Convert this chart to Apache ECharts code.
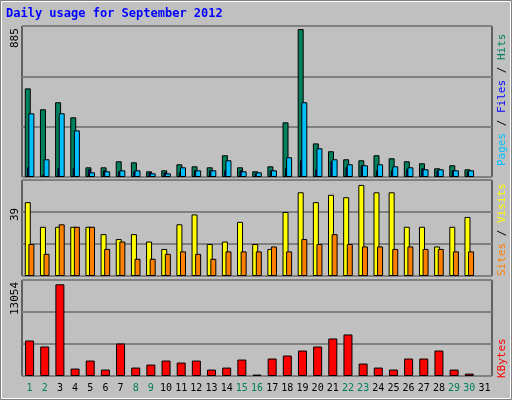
<!DOCTYPE html>
<html>
<head>
<meta charset="utf-8">
<script src="https://cdn.jsdelivr.net/npm/echarts@6/dist/echarts.min.js"></script>
<style>
  html, body { margin: 0; padding: 0; background: #c0c0c0; }
  #chart { width: 512px; height: 400px; }
</style>
</head>
<body>
<div id="chart"></div>
<script>
const days = ['1','2','3','4','5','6','7','8','9','10','11','12','13','14','15','16','17','18','19','20','21','22','23','24','25','26','27','28','29','30','31'];
const weekend = ['1','2','8','9','15','16','22','23','29','30'];
const hits = [530,405,447,357,58,58,94,88,34,40,76,64,58,130,58,34,64,327,885,201,154,106,100,130,112,94,82,52,70,46,'-'];
const files = [381,106,381,279,28,34,40,40,22,22,58,40,40,100,34,28,40,118,447,172,106,76,70,76,64,58,46,46,40,40,'-'];
const pages = [58,16,52,52,46,40,34,34,28,28,28,40,40,40,40,22,40,52,100,46,94,58,70,40,40,46,52,40,40,34,'-'];
const visits = [30,20,20,20,20,17,15,17,14,11,21,25,13,14,22,13,11,26,34,30,33,32,37,34,34,20,20,12,20,24,'-'];
const sites = [13,9,21,20,20,11,14,7,7,9,10,9,7,10,10,10,12,10,15,13,17,13,12,12,11,12,11,11,10,10,'-'];
const kbytes = [5056,4199,13054,1057,2200,914,4627,1200,1628,2200,1914,2200,914,1200,2342,200,2485,2914,3628,4199,5342,5913,1771,1200,914,2485,2485,3628,914,343,'-'];

const font = 'DejaVu Sans Mono';
const grids = [
  { left: 22, right: 20, top: 26, height: 151 },
  { left: 22, right: 20, top: 180, height: 96 },
  { left: 22, right: 20, top: 280, height: 96 }
];
const maxes = [903, 39, 13668];

const myChart = echarts.init(document.getElementById('chart'));
const bar = (axis, data, color, width, gap) => ({
  type: 'bar', xAxisIndex: axis, yAxisIndex: axis, data: data,
  barWidth: width, barGap: gap, animation: false,
  itemStyle: { color: color, borderColor: '#000', borderWidth: 1 }
});

myChart.setOption({
  backgroundColor: '#c0c0c0',
  textStyle: { fontFamily: font },
  grid: grids.map(g => Object.assign({ show: true, backgroundColor: '#c0c0c0', borderColor: '#000', borderWidth: 1 }, g)),
  xAxis: grids.map((g, i) => ({
    type: 'category', gridIndex: i, data: days,
    axisLine: { show: false }, axisTick: { show: false },
    axisLabel: {
      show: i === 2, interval: 0, margin: 7, fontFamily: font, fontSize: 10,
      color: v => weekend.includes(v) ? '#00805c' : '#000'
    }
  })),
  yAxis: grids.map((g, i) => ({
    type: 'value', gridIndex: i, min: 0, max: maxes[i], interval: maxes[i] / 3,
    axisLabel: { show: false }, axisLine: { show: false }, axisTick: { show: false },
    splitLine: { lineStyle: { color: '#808080', width: 2 } }
  })),
  series: [
    bar(0, hits, '#00805c', 6, '-60%'),
    bar(0, pages, '#0000ff', 3, '-60%'),
    bar(0, files, '#00c0ff', 6, '-60%'),
    bar(1, visits, '#ffff00', 6, '-40%'),
    bar(1, sites, '#ff8000', 6, '-40%'),
    bar(2, kbytes, '#ff0000', 9, '-43%')
  ],
  graphic: [
    { type: 'rect', shape: { x: 0.5, y: 0.5, width: 511, height: 399 }, style: { fill: 'none', stroke: '#808080', lineWidth: 1 } },
    { type: 'rect', shape: { x: 1.5, y: 1.5, width: 509, height: 397 }, style: { fill: 'none', stroke: '#fff', lineWidth: 1 } },
    { type: 'text', left: 6, top: 8, style: { text: 'Daily usage for September 2012', fill: '#0000ff', font: 'bold 12px ' + font } },
    { type: 'text', x: 10, y: 48, rotation: Math.PI / 2, style: { text: '885', fill: '#000', font: '11px ' + font } },
    { type: 'text', x: 10, y: 221, rotation: Math.PI / 2, style: { text: '39', fill: '#000', font: '11px ' + font } },
    { type: 'text', x: 10, y: 315, rotation: Math.PI / 2, style: { text: '13054', fill: '#000', font: '11px ' + font } },
    { type: 'text', x: 497, y: 166, rotation: Math.PI / 2, style: {
      text: '{p|Pages} {s|/} {f|Files} {s|/} {h|Hits}', font: '11px ' + font,
      rich: { p: { fill: '#00c0ff' }, f: { fill: '#0000ff' }, h: { fill: '#00805c' }, s: { fill: '#000' } } } },
    { type: 'text', x: 497, y: 276, rotation: Math.PI / 2, style: {
      text: '{s|Sites} {k|/} {v|Visits}', font: '11px ' + font,
      rich: { s: { fill: '#ff8000' }, v: { fill: '#ffff00' }, k: { fill: '#000' } } } },
    { type: 'text', x: 497, y: 378, rotation: Math.PI / 2, style: { text: 'KBytes', fill: '#ff0000', font: '11px ' + font } }
  ]
});
window.addEventListener('resize', function () {
  myChart.resize();
});
</script>
</body>
</html>
